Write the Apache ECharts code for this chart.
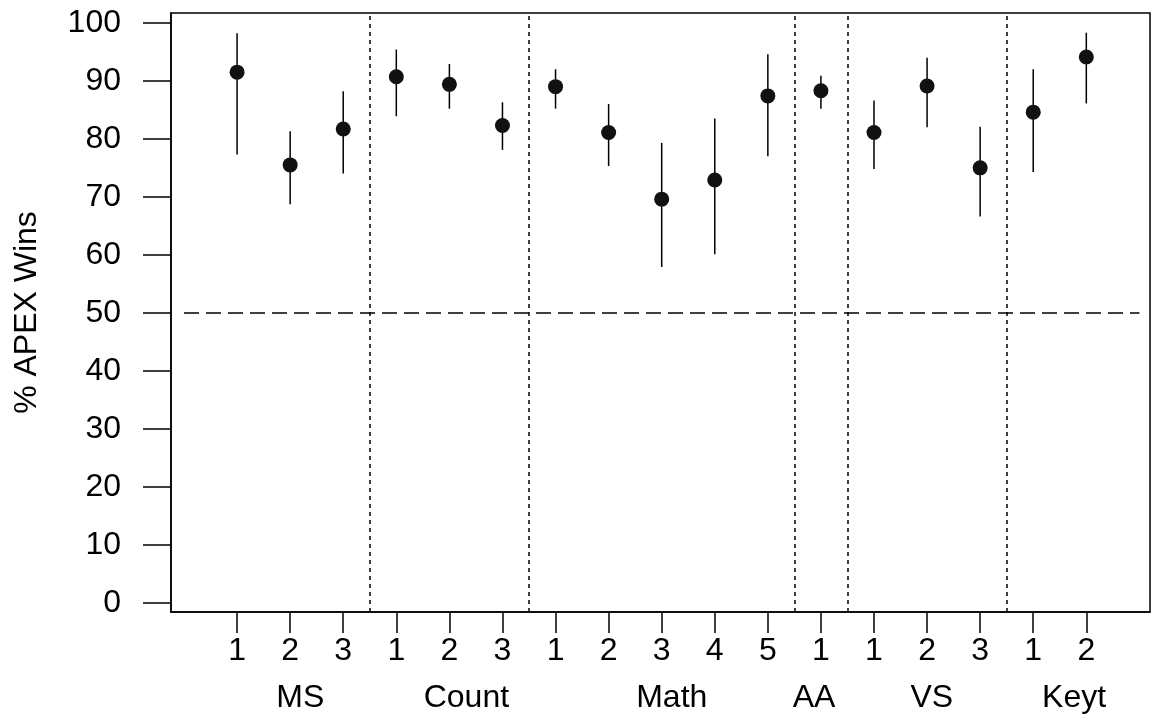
<!DOCTYPE html>
<html>
<head>
<meta charset="utf-8">
<script src="https://cdn.jsdelivr.net/npm/echarts@6/dist/echarts.min.js"></script>
<style>
html,body{margin:0;padding:0;background:#fff;}
#chart{width:1152px;height:715px;}
</style>
</head>
<body>
<div id="chart"></div>
<script>
// ---- data ----
const tickLabels = ["1","2","3","1","2","3","1","2","3","4","5","1","1","2","3","1","2"];
const groupNames = ["MS","Count","Math","AA","VS","Keyt"];
const groupLabelPos = [2.19, 5.32, 9.19, 11.87, 14.09, 16.77];
const separators = [3.5, 6.5, 11.5, 12.5, 15.5];
const meanValues = [91.5, 75.5, 81.7, 90.7, 89.4, 82.3, 89.0, 81.1, 69.6, 72.9, 87.4, 88.3, 81.1, 89.1, 75.0, 84.6, 94.1];
const lowerValues = [77.3, 68.7, 74.0, 83.9, 85.2, 78.1, 85.2, 75.3, 57.9, 60.1, 77.0, 85.2, 74.8, 82.0, 66.6, 74.3, 86.1];
const upperValues = [98.2, 81.3, 88.2, 95.4, 92.9, 86.3, 92.0, 86.0, 79.3, 83.5, 94.6, 90.9, 86.6, 94.0, 82.1, 92.0, 98.3];
const yTicks = [0,10,20,30,40,50,60,70,80,90,100];
const referenceValue = 50;

const positions = tickLabels.map((_, i) => i + 1);
const pointData = meanValues.map((v, i) => [positions[i], v]);
const barData = lowerValues.map((lo, i) => [positions[i], lo, upperValues[i]]);

const FONT = 'Liberation Sans';
const FS = 32;
const chart = echarts.init(document.getElementById('chart'), null, {renderer: 'canvas'});

const option = {
  backgroundColor: '#fff',
  animation: false,
  grid: {left: 171, right: 2, top: 13, bottom: 103, show: true, borderColor: '#000', borderWidth: 1.5, backgroundColor: 'transparent'},
  xAxis: [{
    type: 'value', min: -0.245, max: 18.2, position: 'bottom',
    axisLine: {show: true, onZero: false, lineStyle: {color: '#000', width: 1.5}},
    axisTick: {show: true, length: 21, lineStyle: {color: '#000', width: 1.5}, customValues: positions},
    axisLabel: {customValues: positions, margin: 23, color: '#000', fontFamily: FONT, fontSize: FS, lineHeight: FS,
      formatter: v => tickLabels[Math.round(v) - 1] || ''},
    splitLine: {show: false}
  }, {
    type: 'value', min: -0.245, max: 18.2, position: 'bottom',
    axisLine: {show: false, onZero: false}, axisTick: {show: false}, splitLine: {show: false},
    axisLabel: {customValues: groupLabelPos, margin: 70, color: '#000', fontFamily: FONT, fontSize: FS, lineHeight: FS,
      formatter: v => {
        let best = 0;
        groupLabelPos.forEach((p, i) => { if (Math.abs(p - v) < Math.abs(groupLabelPos[best] - v)) best = i; });
        return groupNames[best];
      }}
  }],
  yAxis: {
    type: 'value', min: -1.6, max: 101.7,
    name: '% APEX Wins', nameLocation: 'middle', nameGap: 128, nameRotate: 90,
    nameTextStyle: {color: '#000', fontFamily: FONT, fontSize: FS},
    axisLine: {show: true, onZero: false, lineStyle: {color: '#000', width: 1.5}},
    axisTick: {show: true, length: 28, customValues: yTicks, lineStyle: {color: '#000', width: 1.5}},
    axisLabel: {customValues: yTicks, margin: 50, color: '#000', fontFamily: FONT, fontSize: FS},
    splitLine: {show: false}
  },
  series: [{
    type: 'custom',
    xAxisIndex: 0,
    renderItem: (params, api) => {
      const top = api.coord([api.value(0), api.value(2)]);
      const bot = api.coord([api.value(0), api.value(1)]);
      return {type: 'line', shape: {x1: top[0], y1: top[1], x2: bot[0], y2: bot[1]},
        style: {stroke: '#000', lineWidth: 1.5}};
    },
    encode: {x: 0, y: [1, 2]},
    data: barData,
    z: 2
  }, {
    type: 'scatter',
    xAxisIndex: 0,
    data: pointData,
    symbol: 'circle', symbolSize: 15,
    itemStyle: {color: '#111', opacity: 1},
    z: 3,
    markLine: {
      silent: true, symbol: 'none', animation: false,
      label: {show: false},
      data: separators.map(s => ({xAxis: s, lineStyle: {type: [4, 4], color: '#000', width: 1.5}})).concat([
        [{coord: [0, referenceValue], lineStyle: {type: [15, 7], color: '#000', width: 1.5}}, {coord: [18, referenceValue]}]
      ])
    }
  }]
};
chart.setOption(option);
</script>
</body>
</html>
